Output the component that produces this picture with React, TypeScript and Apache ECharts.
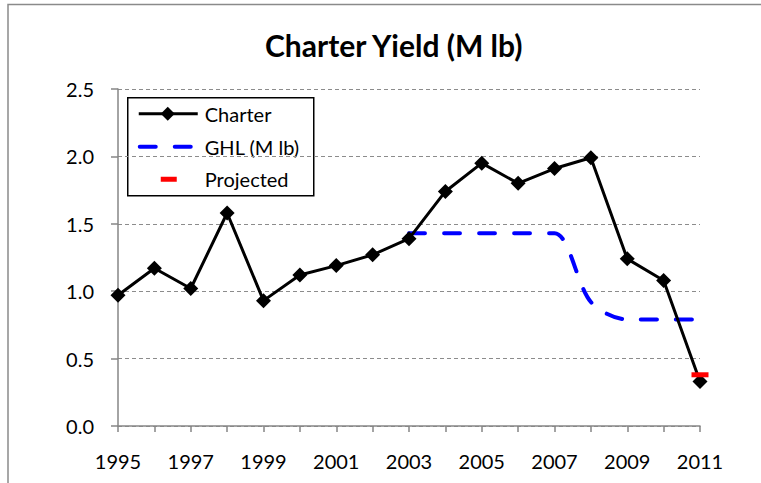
import React, { useEffect, useRef } from "react";
import * as echarts from "echarts";

const years = ["1995","1996","1997","1998","1999","2000","2001","2002","2003","2004","2005","2006","2007","2008","2009","2010","2011"];
const charter = [0.97, 1.17, 1.02, 1.58, 0.93, 1.12, 1.19, 1.27, 1.39, 1.74, 1.95, 1.80, 1.91, 1.99, 1.24, 1.08, 0.33];
const ghl = [null, null, null, null, null, null, null, null, 1.43, 1.43, 1.43, 1.43, 1.43, 0.92, 0.79, 0.79, 0.79];
const projected = [null, null, null, null, null, null, null, null, null, null, null, null, null, null, null, null, 0.38];
const yTicks = [0, 0.5, 1.0, 1.5, 2.0, 2.5];
const seriesNames = ["Charter", "GHL (M lb)", "Projected"];

const FONT = "Lato";

export default function App() {
  const ref = useRef<HTMLDivElement>(null);
  useEffect(() => {
    document.body.style.margin = "0";
    const chart = echarts.init(ref.current!, null, { renderer: "svg" });
    const lx = 127, ly = 97;
    chart.setOption({
      animation: false,
      backgroundColor: "#ffffff",
      title: {
        text: "Charter Yield (M lb)",
        left: 260,
        top: 25,
        textStyle: { fontFamily: FONT, fontSize: 30, fontWeight: "bold", color: "#000" },
      },
      grid: { left: 118, right: 61, top: 89, bottom: 57 },
      xAxis: {
        type: "category",
        data: years,
        boundaryGap: false,
        axisLine: { lineStyle: { color: "#868686", width: 1.5 } },
        axisTick: { show: true, interval: 0, length: 6, lineStyle: { color: "#868686", width: 1.5 } },
        axisLabel: { interval: 1, margin: 25, color: "#000", fontFamily: FONT, fontSize: 20 },
        splitLine: { show: false },
      },
      yAxis: {
        type: "value",
        min: yTicks[0],
        max: yTicks[yTicks.length - 1],
        interval: 0.5,
        axisLine: { show: true, lineStyle: { color: "#868686", width: 1.5 } },
        axisTick: { show: true, length: 7, lineStyle: { color: "#868686", width: 1.5 } },
        axisLabel: { margin: 24, color: "#000", fontFamily: FONT, fontSize: 20, formatter: (v: number) => v.toFixed(1) },
        splitLine: { show: true, lineStyle: { color: "#8c8c8c", width: 1.2, type: [4, 3] } },
      },
      series: [
        {
          name: seriesNames[0],
          type: "line",
          data: charter,
          symbol: "diamond",
          symbolSize: 15,
          itemStyle: { color: "#000" },
          lineStyle: { color: "#000", width: 3 },
          z: 3,
        },
        {
          name: seriesNames[1],
          type: "line",
          data: ghl,
          smooth: 0.3,
          showSymbol: false,
          symbol: "none",
          lineStyle: { color: "#0000ff", width: 4, type: [16, 19], cap: "round" },
          z: 2,
        },
        {
          name: seriesNames[2],
          type: "line",
          data: projected,
          symbol: "rect",
          symbolSize: [17, 5],
          itemStyle: { color: "#ff0000" },
          lineStyle: { width: 0 },
          z: 4,
        },
      ],
      graphic: [
        {
          type: "polyline",
          shape: { points: [[8, 483], [8, 4.5], [761, 4.5]] },
          style: { stroke: "#8a8a8a", lineWidth: 1.5, fill: null },
          silent: true,
        },
        {
          type: "group",
          left: lx,
          top: ly,
          children: [
            { type: "rect", shape: { x: 0, y: 0, width: 186, height: 98 }, style: { fill: "#fff", stroke: "#000", lineWidth: 1.5 } },
            { type: "line", shape: { x1: 11, y1: 16, x2: 70, y2: 16 }, style: { stroke: "#000", lineWidth: 3 } },
            { type: "polygon", shape: { points: [[40, 9], [47, 16], [40, 23], [33, 16]] }, style: { fill: "#000" } },
            { type: "text", x: 77, y: 16, style: { text: seriesNames[0], fontFamily: FONT, fontSize: 20, fill: "#000", verticalAlign: "middle" } },
            { type: "line", shape: { x1: 12, y1: 49, x2: 63, y2: 49 }, style: { stroke: "#0000ff", lineWidth: 4, lineDash: [16, 19], lineCap: "round" } },
            { type: "text", x: 77, y: 49, style: { text: seriesNames[1], fontFamily: FONT, fontSize: 20, fill: "#000", verticalAlign: "middle" } },
            { type: "rect", shape: { x: 33, y: 79, width: 16, height: 5 }, style: { fill: "#ff0000" } },
            { type: "text", x: 77, y: 81, style: { text: seriesNames[2], fontFamily: FONT, fontSize: 20, fill: "#000", verticalAlign: "middle" } },
          ],
        },
      ],
    });
    return () => chart.dispose();
  }, []);
  return <div ref={ref} style={{ position: "fixed", left: 0, top: 0, width: 761, height: 483 }} />;
}
